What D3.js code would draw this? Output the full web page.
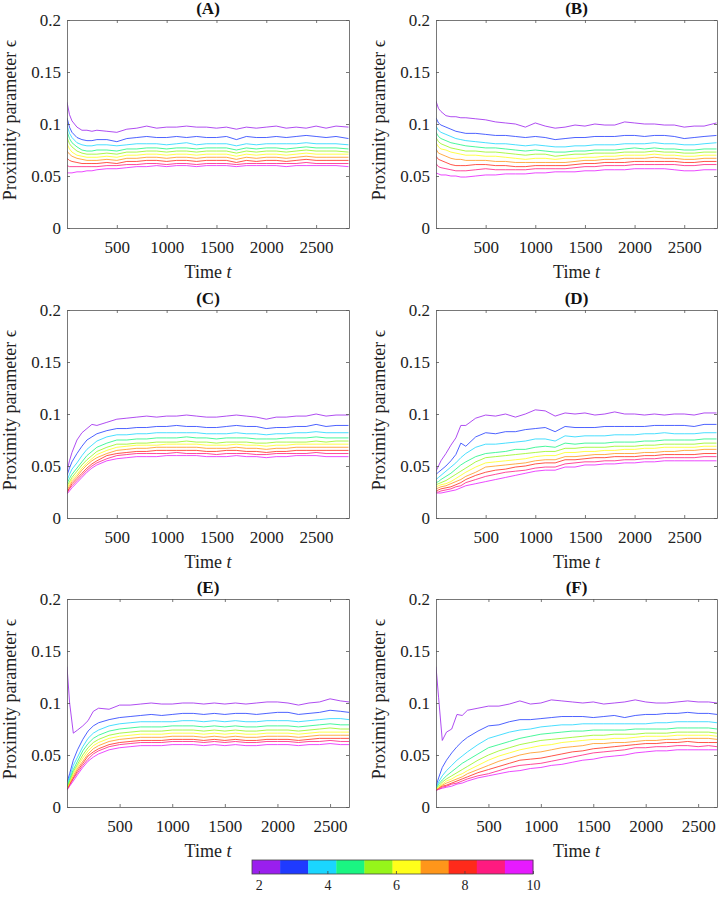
<!DOCTYPE html>
<html><head><meta charset="utf-8">
<script src="https://cdn.jsdelivr.net/npm/d3@7"></script>
<style>body{margin:0;background:#fff}svg{display:block}</style>
</head><body>
<svg id="chart" width="720" height="899"></svg>
<script>
// ---- data ----
const levels = [1,2,3,4,5,6,7,8,9,10];
const colors = ["#9a1fee","#1f3aff","#1ad6ff","#1af582","#96f51a","#ffff1a","#ff961a","#ff2a1a","#ff1a80","#e61aff"];
const cbTicks = [2,4,6,8,10];
const xTicks = [500,1000,1500,2000,2500];
const yTicks = [0,0.05,0.1,0.15,0.2];
const panelLabels = ["(A)","(B)","(C)","(D)","(E)","(F)"];

const tAD = [0,25,50,100,150,200,250,300,400,500,600,700,800,900,1000,1100,1200,1300,1400,1500,1600,1700,1800,1900,2000,2100,2200,2300,2400,2500,2600,2700,2825];
const tEF = [0,25,60,100,150,200,250,300,400,500,600,700,800,900,1000,1100,1200,1300,1400,1500,1600,1700,1800,1900,2000,2100,2200,2300,2400,2500,2600,2680];

const seriesA = [
[.121,.109,.103,.097,.094,.094,.093,.094,.093,.092,.095,.096,.098,.096,.097,.097,.098,.097,.097,.096,.097,.095,.097,.096,.097,.098,.096,.097,.096,.098,.096,.098,.097],
[.106,.097,.092,.087,.085,.084,.084,.085,.085,.083,.086,.087,.088,.087,.087,.088,.087,.088,.087,.087,.088,.085,.088,.087,.087,.088,.087,.088,.089,.088,.087,.088,.086],
[.099,.091,.087,.082,.080,.079,.079,.080,.080,.079,.080,.081,.081,.081,.080,.081,.082,.080,.081,.081,.081,.079,.081,.080,.081,.081,.081,.081,.082,.081,.081,.081,.080],
[.093,.086,.082,.078,.075,.074,.074,.075,.075,.074,.076,.076,.077,.077,.076,.077,.077,.076,.077,.077,.077,.075,.077,.076,.077,.077,.076,.077,.078,.077,.077,.077,.076],
[.087,.081,.078,.074,.072,.071,.071,.071,.072,.071,.073,.073,.074,.074,.073,.074,.074,.073,.074,.074,.074,.072,.074,.073,.074,.074,.073,.074,.075,.074,.074,.074,.073],
[.081,.076,.073,.070,.069,.068,.068,.068,.069,.068,.070,.070,.071,.071,.070,.071,.071,.070,.071,.071,.071,.069,.071,.070,.071,.071,.070,.071,.072,.071,.071,.071,.071],
[.074,.071,.069,.067,.066,.065,.065,.065,.066,.065,.067,.067,.068,.068,.067,.068,.068,.067,.068,.068,.068,.066,.068,.067,.068,.068,.067,.068,.069,.068,.068,.068,.068],
[.067,.065,.064,.063,.062,.062,.062,.062,.063,.062,.064,.064,.065,.065,.064,.065,.065,.064,.065,.065,.065,.063,.065,.064,.065,.065,.064,.065,.066,.065,.065,.065,.065],
[.060,.059,.059,.059,.059,.059,.059,.059,.060,.060,.061,.061,.062,.062,.061,.062,.062,.061,.062,.062,.062,.061,.062,.062,.062,.062,.062,.062,.063,.062,.062,.062,.062],
[.053,.053,.053,.054,.054,.055,.055,.056,.057,.057,.058,.059,.059,.060,.059,.060,.060,.059,.060,.060,.060,.059,.060,.060,.060,.060,.059,.060,.060,.060,.060,.060,.059]
];
const seriesB = [
[.122,.115,.112,.108,.107,.107,.106,.106,.105,.104,.102,.101,.100,.097,.101,.098,.096,.097,.099,.098,.100,.099,.099,.102,.101,.100,.100,.099,.099,.097,.098,.098,.101],
[.106,.101,.099,.097,.095,.093,.092,.091,.091,.090,.089,.089,.088,.087,.088,.087,.085,.086,.087,.087,.088,.088,.088,.089,.089,.088,.089,.089,.088,.086,.087,.088,.089],
[.098,.094,.092,.090,.088,.086,.085,.084,.083,.082,.081,.081,.080,.079,.080,.079,.078,.078,.079,.079,.080,.080,.080,.081,.081,.081,.082,.081,.081,.080,.080,.081,.082],
[.092,.088,.086,.084,.082,.081,.080,.079,.078,.077,.077,.076,.075,.074,.075,.074,.073,.073,.074,.074,.075,.075,.075,.076,.077,.076,.077,.076,.076,.075,.075,.076,.076],
[.087,.083,.081,.079,.077,.076,.075,.074,.074,.073,.073,.072,.071,.070,.071,.071,.069,.070,.071,.071,.072,.072,.072,.073,.073,.073,.074,.073,.073,.072,.072,.073,.073],
[.082,.078,.076,.075,.073,.072,.071,.070,.070,.069,.069,.068,.067,.066,.067,.067,.066,.067,.067,.068,.068,.069,.069,.070,.070,.070,.071,.070,.070,.069,.069,.070,.070],
[.076,.072,.071,.069,.067,.066,.066,.065,.065,.065,.064,.064,.063,.063,.063,.063,.063,.063,.064,.065,.065,.066,.066,.067,.067,.067,.068,.067,.067,.066,.066,.067,.067],
[.069,.066,.065,.063,.061,.060,.060,.060,.061,.061,.060,.060,.059,.059,.060,.060,.060,.060,.061,.062,.062,.063,.063,.063,.064,.064,.064,.064,.064,.063,.063,.064,.064],
[.062,.059,.058,.057,.056,.055,.055,.055,.056,.057,.056,.056,.056,.056,.057,.057,.057,.057,.058,.059,.059,.060,.060,.060,.061,.061,.061,.061,.061,.060,.060,.061,.061],
[.053,.052,.051,.051,.050,.050,.049,.049,.050,.051,.051,.052,.052,.052,.053,.053,.054,.054,.054,.055,.055,.056,.056,.056,.057,.057,.057,.057,.056,.055,.055,.056,.056]
];
const seriesC = [
[.045,.055,.063,.075,.082,.086,.090,.089,.092,.095,.096,.097,.098,.097,.098,.098,.099,.098,.097,.097,.098,.099,.098,.097,.095,.097,.097,.098,.098,.100,.098,.099,.099],
[.041,.048,.054,.062,.069,.075,.078,.081,.084,.086,.086,.087,.087,.088,.088,.089,.088,.088,.087,.087,.088,.089,.088,.088,.086,.087,.087,.088,.088,.090,.088,.089,.089],
[.036,.042,.047,.053,.060,.066,.070,.074,.078,.080,.080,.081,.081,.082,.082,.082,.082,.082,.081,.081,.081,.082,.081,.081,.080,.081,.081,.082,.082,.083,.082,.082,.082],
[.033,.038,.042,.048,.054,.060,.064,.068,.072,.075,.075,.076,.076,.077,.077,.077,.078,.077,.077,.076,.077,.077,.077,.076,.076,.076,.077,.077,.077,.078,.077,.077,.077],
[.031,.035,.039,.045,.051,.056,.060,.064,.068,.071,.071,.072,.072,.073,.073,.073,.074,.073,.073,.072,.073,.073,.073,.072,.072,.073,.073,.073,.073,.074,.073,.074,.074],
[.029,.033,.037,.042,.048,.053,.057,.061,.065,.068,.069,.070,.070,.070,.071,.071,.071,.071,.070,.070,.070,.071,.070,.070,.069,.070,.070,.071,.071,.071,.071,.071,.071],
[.027,.031,.035,.040,.046,.051,.055,.058,.062,.065,.066,.067,.067,.068,.068,.068,.068,.068,.067,.067,.067,.068,.067,.067,.066,.067,.067,.068,.068,.068,.068,.068,.068],
[.025,.029,.033,.038,.043,.048,.052,.055,.060,.062,.063,.064,.064,.065,.065,.065,.065,.065,.064,.064,.065,.065,.064,.064,.063,.064,.064,.065,.065,.065,.065,.065,.065],
[.024,.028,.031,.036,.041,.046,.050,.053,.057,.060,.061,.062,.062,.062,.062,.063,.062,.062,.062,.061,.062,.062,.062,.061,.061,.062,.062,.062,.062,.063,.062,.062,.062],
[.023,.026,.029,.034,.039,.044,.048,.051,.055,.057,.058,.059,.059,.059,.060,.060,.060,.060,.059,.059,.059,.060,.059,.059,.058,.059,.059,.060,.060,.060,.059,.059,.059]
];
const seriesD = [
[.045,.050,.055,.062,.070,.077,.089,.089,.096,.099,.098,.100,.097,.100,.104,.103,.098,.101,.100,.101,.099,.100,.102,.100,.100,.099,.100,.099,.100,.100,.099,.101,.101],
[.042,.044,.046,.050,.055,.061,.072,.069,.078,.082,.081,.083,.083,.085,.086,.087,.083,.088,.087,.087,.087,.088,.088,.088,.088,.088,.089,.089,.089,.089,.088,.090,.090],
[.037,.039,.041,.045,.049,.053,.058,.062,.068,.071,.071,.072,.073,.074,.076,.076,.074,.079,.078,.079,.079,.079,.080,.080,.080,.081,.081,.082,.081,.081,.081,.082,.082],
[.034,.035,.037,.040,.043,.047,.051,.054,.059,.062,.063,.064,.066,.066,.068,.069,.068,.072,.071,.072,.072,.072,.073,.073,.073,.074,.074,.075,.075,.075,.075,.076,.076],
[.032,.033,.034,.036,.039,.042,.045,.048,.054,.058,.059,.060,.061,.062,.063,.064,.064,.067,.067,.068,.068,.068,.069,.069,.069,.070,.070,.071,.071,.071,.071,.072,.072],
[.030,.031,.032,.033,.035,.038,.041,.044,.049,.053,.054,.055,.056,.057,.059,.060,.060,.063,.063,.064,.064,.065,.065,.066,.066,.067,.067,.068,.068,.068,.068,.069,.069],
[.028,.029,.030,.031,.033,.035,.037,.040,.044,.049,.050,.051,.052,.053,.055,.056,.056,.059,.059,.060,.061,.061,.062,.062,.062,.063,.063,.064,.064,.065,.065,.066,.066],
[.026,.027,.028,.029,.030,.032,.034,.037,.041,.044,.046,.047,.049,.050,.052,.053,.053,.056,.056,.057,.058,.058,.059,.059,.059,.060,.060,.061,.061,.061,.061,.062,.062],
[.025,.025,.026,.027,.028,.030,.031,.034,.037,.040,.042,.044,.045,.046,.048,.049,.049,.052,.053,.054,.054,.055,.055,.056,.056,.057,.057,.058,.058,.058,.058,.059,.059],
[.024,.024,.024,.025,.026,.027,.029,.031,.033,.035,.037,.039,.041,.043,.045,.046,.046,.049,.049,.051,.051,.052,.052,.053,.053,.054,.054,.055,.055,.055,.055,.055,.055]
];
const seriesE = [
[.135,.100,.071,.074,.078,.083,.092,.095,.094,.098,.098,.099,.100,.099,.099,.100,.100,.099,.100,.099,.100,.099,.100,.101,.101,.100,.098,.100,.101,.104,.102,.101],
[.024,.032,.045,.055,.065,.073,.078,.081,.084,.086,.087,.088,.089,.088,.089,.090,.090,.089,.090,.089,.090,.090,.089,.090,.091,.091,.089,.090,.091,.093,.092,.091],
[.022,.029,.040,.048,.058,.066,.071,.074,.078,.080,.081,.082,.082,.082,.082,.083,.083,.082,.083,.082,.083,.082,.082,.083,.083,.083,.082,.083,.084,.085,.085,.084],
[.020,.027,.036,.044,.054,.061,.066,.069,.073,.075,.076,.077,.077,.077,.078,.078,.078,.077,.078,.077,.078,.077,.077,.078,.078,.078,.077,.078,.079,.080,.079,.079],
[.019,.025,.034,.041,.050,.057,.062,.065,.069,.071,.072,.073,.073,.073,.074,.074,.074,.073,.074,.073,.074,.073,.073,.074,.074,.074,.073,.074,.075,.076,.075,.075],
[.018,.024,.032,.039,.047,.054,.059,.062,.066,.068,.069,.070,.070,.070,.071,.071,.071,.070,.071,.070,.071,.070,.070,.071,.071,.071,.070,.071,.072,.072,.072,.072],
[.018,.023,.030,.037,.044,.051,.056,.059,.063,.065,.066,.067,.067,.067,.068,.068,.068,.067,.068,.067,.068,.067,.067,.068,.068,.068,.067,.068,.069,.069,.069,.069],
[.017,.022,.028,.035,.042,.049,.053,.056,.060,.062,.063,.064,.064,.064,.065,.065,.065,.064,.065,.064,.065,.064,.064,.065,.065,.065,.064,.065,.066,.066,.066,.066],
[.017,.021,.027,.033,.040,.046,.051,.054,.058,.060,.061,.062,.062,.062,.063,.063,.063,.062,.063,.062,.063,.062,.062,.063,.063,.063,.062,.063,.063,.064,.063,.063],
[.016,.020,.025,.031,.038,.044,.048,.051,.055,.057,.058,.059,.059,.059,.060,.060,.060,.059,.060,.059,.060,.059,.059,.060,.060,.060,.059,.060,.060,.061,.060,.060]
];
const seriesF = [
[.135,.105,.064,.072,.075,.089,.088,.093,.095,.097,.097,.099,.102,.099,.100,.103,.102,.101,.100,.101,.099,.100,.101,.103,.101,.100,.100,.101,.102,.101,.101,.100],
[.020,.028,.038,.045,.052,.058,.063,.067,.073,.078,.079,.082,.084,.084,.085,.086,.087,.087,.087,.086,.087,.088,.086,.088,.089,.089,.090,.090,.091,.090,.090,.089],
[.019,.024,.030,.035,.040,.045,.049,.053,.060,.066,.069,.072,.074,.075,.077,.078,.079,.079,.080,.080,.080,.080,.080,.080,.080,.081,.081,.082,.082,.082,.082,.081],
[.018,.022,.026,.030,.034,.038,.042,.045,.051,.057,.060,.063,.066,.068,.070,.071,.072,.073,.073,.074,.074,.074,.074,.075,.075,.075,.075,.076,.076,.076,.076,.075],
[.018,.020,.024,.027,.030,.033,.036,.039,.045,.050,.054,.057,.060,.062,.064,.065,.066,.067,.068,.069,.069,.070,.070,.070,.071,.071,.071,.072,.072,.072,.072,.071],
[.017,.019,.022,.025,.027,.030,.032,.035,.040,.045,.049,.052,.055,.057,.059,.060,.062,.063,.064,.065,.065,.066,.066,.067,.068,.068,.068,.069,.069,.069,.069,.068],
[.017,.018,.021,.023,.025,.027,.029,.032,.036,.040,.044,.047,.050,.052,.053,.055,.057,.058,.059,.061,.061,.062,.062,.063,.064,.064,.065,.065,.066,.066,.066,.065],
[.016,.018,.020,.021,.023,.025,.027,.029,.033,.036,.039,.042,.045,.046,.047,.049,.051,.053,.054,.056,.057,.058,.059,.060,.061,.061,.062,.062,.063,.062,.062,.062],
[.016,.017,.019,.020,.022,.023,.025,.027,.030,.032,.035,.038,.040,.041,.042,.044,.046,.048,.050,.052,.053,.054,.055,.057,.057,.058,.058,.059,.059,.058,.059,.058],
[.016,.017,.018,.019,.020,.022,.023,.025,.028,.030,.032,.034,.035,.037,.038,.040,.041,.043,.045,.046,.048,.049,.050,.052,.053,.054,.054,.055,.055,.055,.055,.055]
];

// ---- layout ----
const FONT = "'Liberation Serif','Times New Roman',serif";
const panels = [
  {label:panelLabels[0], t:tAD, s:seriesA, xmax:2830, x:67,  y:20,  w:282, h:208},
  {label:panelLabels[1], t:tAD, s:seriesB, xmax:2830, x:436, y:20,  w:281, h:208},
  {label:panelLabels[2], t:tAD, s:seriesC, xmax:2830, x:67,  y:310, w:282, h:208},
  {label:panelLabels[3], t:tAD, s:seriesD, xmax:2830, x:436, y:310, w:281, h:208},
  {label:panelLabels[4], t:tEF, s:seriesE, xmax:2680, x:67,  y:599, w:282, h:208},
  {label:panelLabels[5], t:tEF, s:seriesF, xmax:2680, x:436, y:599, w:281, h:208}
];

const svg = d3.select("#chart");
svg.append("rect").attr("width",720).attr("height",899).attr("fill","#fff");
const defs = svg.append("defs");
const axisColor = "#555";

panels.forEach((p, pi) => {
  const g = svg.append("g").attr("transform", `translate(${p.x},${p.y})`);
  const x = d3.scaleLinear().domain([0, p.xmax]).range([0, p.w]);
  const y = d3.scaleLinear().domain([0, 0.2]).range([p.h, 0]);
  defs.append("clipPath").attr("id", "clip" + pi)
    .append("rect").attr("width", p.w).attr("height", p.h);

  const line = d3.line().x((d, i) => x(p.t[i])).y(d => y(d));
  g.append("g").attr("clip-path", `url(#clip${pi})`)
    .selectAll("path").data(p.s.map((v, k) => ({v, k})).reverse()).join("path")
    .attr("d", d => line(d.v)).attr("fill", "none")
    .attr("stroke", d => colors[d.k]).attr("stroke-width", 0.8)
    .attr("stroke-linejoin", "round");

  const styleAxis = sel => {
    sel.selectAll("path.domain").attr("stroke", axisColor).attr("stroke-width", 0.8);
    sel.selectAll(".tick line").attr("stroke", axisColor).attr("stroke-width", 0.8);
    sel.selectAll("text").attr("fill", "#222").style("font-family", FONT).style("font-size", "17px");
  };
  g.append("g").attr("transform", `translate(0,${p.h})`)
    .call(d3.axisBottom(x).tickValues(xTicks).tickSize(-3).tickSizeOuter(0).tickPadding(13).tickFormat(d3.format("d")))
    .call(styleAxis);
  g.append("g")
    .call(d3.axisTop(x).tickValues(xTicks).tickSize(-3).tickSizeOuter(0).tickFormat(""))
    .call(styleAxis);
  g.append("g")
    .call(d3.axisLeft(y).tickValues(yTicks).tickSize(-3).tickSizeOuter(0).tickPadding(6).tickFormat(d => String(d)))
    .call(styleAxis);
  g.append("g").attr("transform", `translate(${p.w},0)`)
    .call(d3.axisRight(y).tickValues(yTicks).tickSize(-3).tickSizeOuter(0).tickFormat(""))
    .call(styleAxis);
  g.selectAll(".domain").attr("fill", "none");

  g.append("text").attr("x", p.w / 2).attr("y", -6)
    .attr("text-anchor", "middle").style("font-family", FONT)
    .style("font-size", "17px").style("font-weight", "bold").attr("fill", "#111")
    .text(p.label);

  const xl = g.append("text").attr("x", p.w / 2).attr("y", p.h + 50)
    .attr("text-anchor", "middle").style("font-family", FONT).style("font-size", "18px").attr("fill", "#222");
  xl.append("tspan").text("Time ");
  xl.append("tspan").style("font-style", "italic").text("t");

  g.append("text").attr("transform", `translate(-51,${p.h / 2 - 4}) rotate(-90)`)
    .attr("text-anchor", "middle").style("font-family", FONT).style("font-size", "18px").attr("fill", "#222")
    .text("Proximity parameter \u03F5");
});

// ---- colorbar ----
const cb = svg.append("g").attr("transform", "translate(0,860)");
const cbx = d3.scaleLinear().domain([1.8, 10]).range([252, 533]);
const step = (10 - 1.8) / levels.length;
cb.selectAll("rect.seg").data(levels).join("rect").attr("class", "seg")
  .attr("x", (d, i) => cbx(1.8 + i * step)).attr("y", 0)
  .attr("width", (d, i) => cbx(1.8 + (i + 1) * step) - cbx(1.8 + i * step) + 0.3)
  .attr("height", 14).attr("fill", (d, i) => colors[i]);
cb.append("rect").attr("x", 252).attr("y", 0).attr("width", 281).attr("height", 14)
  .attr("fill", "none").attr("stroke", "#444").attr("stroke-width", 0.8);
cb.append("g").attr("transform", "translate(0,14)")
  .call(d3.axisBottom(cbx).tickValues(cbTicks).tickSize(-3).tickSizeOuter(0).tickPadding(6))
  .call(s => {
    s.select(".domain").remove();
    s.selectAll(".tick line").attr("stroke", "#444").attr("stroke-width", 0.8);
    s.selectAll("text").attr("fill", "#222").style("font-family", FONT).style("font-size", "14px");
  });
</script>
</body></html>
